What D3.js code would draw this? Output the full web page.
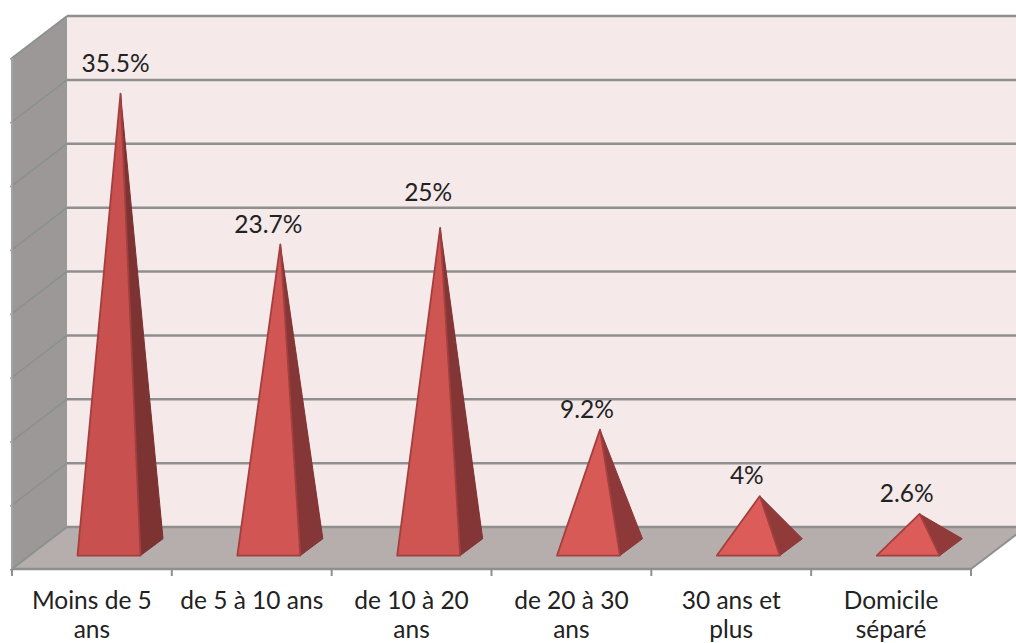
<!DOCTYPE html>
<html>
<head>
<meta charset="utf-8">
<script src="https://cdn.jsdelivr.net/npm/d3@7"></script>
<style>
  html, body { margin: 0; padding: 0; background: #fff; overflow: hidden; }
  text { font-family: Lato, "Open Sans", sans-serif; fill: #222; }
</style>
</head>
<body>
<div id="chart"></div>
<script>
const categories = ["Moins de 5 ans", "de 5 à 10 ans", "de 10 à 20 ans", "de 20 à 30 ans", "30 ans et plus", "Domicile séparé"];
const values = [35.5, 23.7, 25, 9.2, 4, 2.6];
const valueLabels = ["35.5%", "23.7%", "25%", "9.2%", "4%", "2.6%"];
const yTicks = d3.range(0, 45, 5);

const width = 1016;
const height = 643;

// 3D box: front edge of the floor and how far the back wall is shifted from it
const frontLeft = 12;
const frontRight = 971;
const frontY = 569;
const shiftX = 55;
const shiftY = 42;
const wallHeight = 511;
const pyramidDepth = 0.52;
const halfBase = 31.5;
const halfDepth = 0.2;

const x = d3.scaleBand().domain(categories).range([frontLeft, frontRight]);
const y = d3.scaleLinear().domain([0, 40]).range([0, wallHeight]);
const dx = d3.scaleLinear().domain([0, 1]).range([0, shiftX]);
const dy = d3.scaleLinear().domain([0, 1]).range([0, shiftY]);

// screen position of a point given its floor x, its value height and its depth
const project = (px, v, depth) => [px + dx(depth), frontY - dy(depth) - y(v)];

const frontFill = d3.scaleLinear().domain([0, 10, 36]).range(["#de5d5a", "#d85a57", "#c8514f"]);
const sideFill = d3.scaleLinear().domain([0, 36]).range(["#933b3b", "#7e3333"]);

const line = d3.line();

const svg = d3.select("#chart").append("svg")
  .attr("width", width)
  .attr("height", height);

const box = svg.append("g");

// back wall
box.append("path")
  .attr("fill", "#f5e9e9")
  .attr("d", line([project(frontLeft, 0, 1), project(frontLeft, 40, 1), project(frontRight, 40, 1), project(frontRight, 0, 1)]) + "Z");

// side wall
box.append("path")
  .attr("fill", "#9d9898")
  .attr("d", line([project(frontLeft, 0, 0), project(frontLeft, 40, 0), project(frontLeft, 40, 1), project(frontLeft, 0, 1)]) + "Z");

// floor
box.append("path")
  .attr("fill", "#b6adad")
  .attr("d", line([project(frontLeft, 0, 0), project(frontRight, 0, 0), project(frontRight, 0, 1), project(frontLeft, 0, 1)]) + "Z");

// gridlines across the back wall
box.selectAll("path.grid")
  .data(yTicks)
  .enter()
  .append("path")
  .attr("class", "grid")
  .attr("fill", "none")
  .attr("stroke", "#8f8f8f")
  .attr("stroke-width", 2.5)
  .attr("d", d => line([project(frontLeft, d, 1), project(frontRight, d, 1)]));

// the same gridlines continue down the side wall, with a small nub past its edge
box.selectAll("path.sideGrid")
  .data(yTicks)
  .enter()
  .append("path")
  .attr("class", "sideGrid")
  .attr("fill", "none")
  .attr("stroke", "#8b9090")
  .attr("stroke-width", 1.6)
  .attr("d", d => line([project(frontLeft, d, -0.03), project(frontLeft, d, 1)]));

// left edge of the side wall
box.append("path")
  .attr("fill", "none")
  .attr("stroke", "#a3a3a3")
  .attr("stroke-width", 2)
  .attr("d", line([project(frontLeft, 40, 0), project(frontLeft, 0, 0)]));

// right edge of the floor
box.append("path")
  .attr("fill", "none")
  .attr("stroke", "#8f8f8f")
  .attr("stroke-width", 2)
  .attr("d", line([project(frontRight, 0, 0), project(frontRight, 0, 1)]));

// pyramids
const pyramids = svg.selectAll("g.pyramid")
  .data(categories)
  .enter()
  .append("g")
  .attr("class", "pyramid");

const corners = (d, i) => {
  const cx = x(d) + x.bandwidth() / 2;
  return {
    fl: project(cx - halfBase - 0.5, 0, pyramidDepth - halfDepth),
    fr: project(cx + halfBase - 0.5, 0, pyramidDepth - halfDepth),
    br: project(cx + halfBase, 0, pyramidDepth + halfDepth),
    top: project(cx, values[i], pyramidDepth)
  };
};

pyramids.append("path")
  .attr("fill", (d, i) => sideFill(values[i]))
  .attr("stroke", (d, i) => d3.color(sideFill(values[i])).darker(0.1))
  .attr("stroke-width", 1)
  .attr("stroke-linejoin", "round")
  .attr("d", (d, i) => {
    const c = corners(d, i);
    return line([c.top, c.fr, c.br]) + "Z";
  });

pyramids.append("path")
  .attr("fill", (d, i) => frontFill(values[i]))
  .attr("stroke", "#a33f3e")
  .attr("stroke-width", 1.8)
  .attr("stroke-linejoin", "round")
  .attr("d", (d, i) => {
    const c = corners(d, i);
    return line([c.top, c.fl, c.fr]) + "Z";
  });

// value labels sit up and to the left of each apex
const labelNudge = [[-5, -21.5], [-12, -11], [-12, -27], [-13, -12], [-13, -12], [-13, -12]];

pyramids.append("text")
  .attr("text-anchor", "middle")
  .style("font-size", "24.5px")
  .attr("x", (d, i) => corners(d, i).top[0] + labelNudge[i][0])
  .attr("y", (d, i) => corners(d, i).top[1] + labelNudge[i][1])
  .text((d, i) => valueLabels[i]);

// category axis along the front of the floor
const axis = svg.append("g")
  .attr("transform", `translate(0,${frontY})`)
  .call(d3.axisBottom(x).tickSize(0).tickPadding(0));

axis.select(".domain").remove();
axis.selectAll("text").remove();

axis.append("path")
  .attr("fill", "none")
  .attr("stroke", "#8f8f8f")
  .attr("stroke-width", 2.5)
  .attr("d", line([[frontLeft, 0], [frontRight, 0]]));

const tickEdges = categories.map(d => x(d)).concat(frontRight);
axis.selectAll("line.edge")
  .data(tickEdges)
  .enter()
  .append("line")
  .attr("class", "edge")
  .attr("x1", d => d).attr("x2", d => d)
  .attr("y1", 0).attr("y2", 7)
  .attr("stroke", "#8f8f8f")
  .attr("stroke-width", 2);

// category labels wrap onto two lines when they don't fit the band
const lineBreaks = [["Moins de 5", "ans"], ["de 5 à 10 ans"], ["de 10 à 20", "ans"], ["de 20 à 30", "ans"], ["30 ans et", "plus"], ["Domicile", "séparé"]];

const catLabels = axis.selectAll("text.cat")
  .data(categories)
  .enter()
  .append("text")
  .attr("class", "cat")
  .attr("text-anchor", "middle")
  .style("font-size", "24.5px")
  .attr("x", d => x(d) + x.bandwidth() / 2)
  .attr("y", 39.5);

catLabels.selectAll("tspan")
  .data((d, i) => lineBreaks[i].map(t => ({ t, cx: x(d) + x.bandwidth() / 2 })))
  .enter()
  .append("tspan")
  .attr("x", d => d.cx)
  .attr("dy", (d, i) => i === 0 ? 0 : 29)
  .text(d => d.t);
</script>
</body>
</html>
